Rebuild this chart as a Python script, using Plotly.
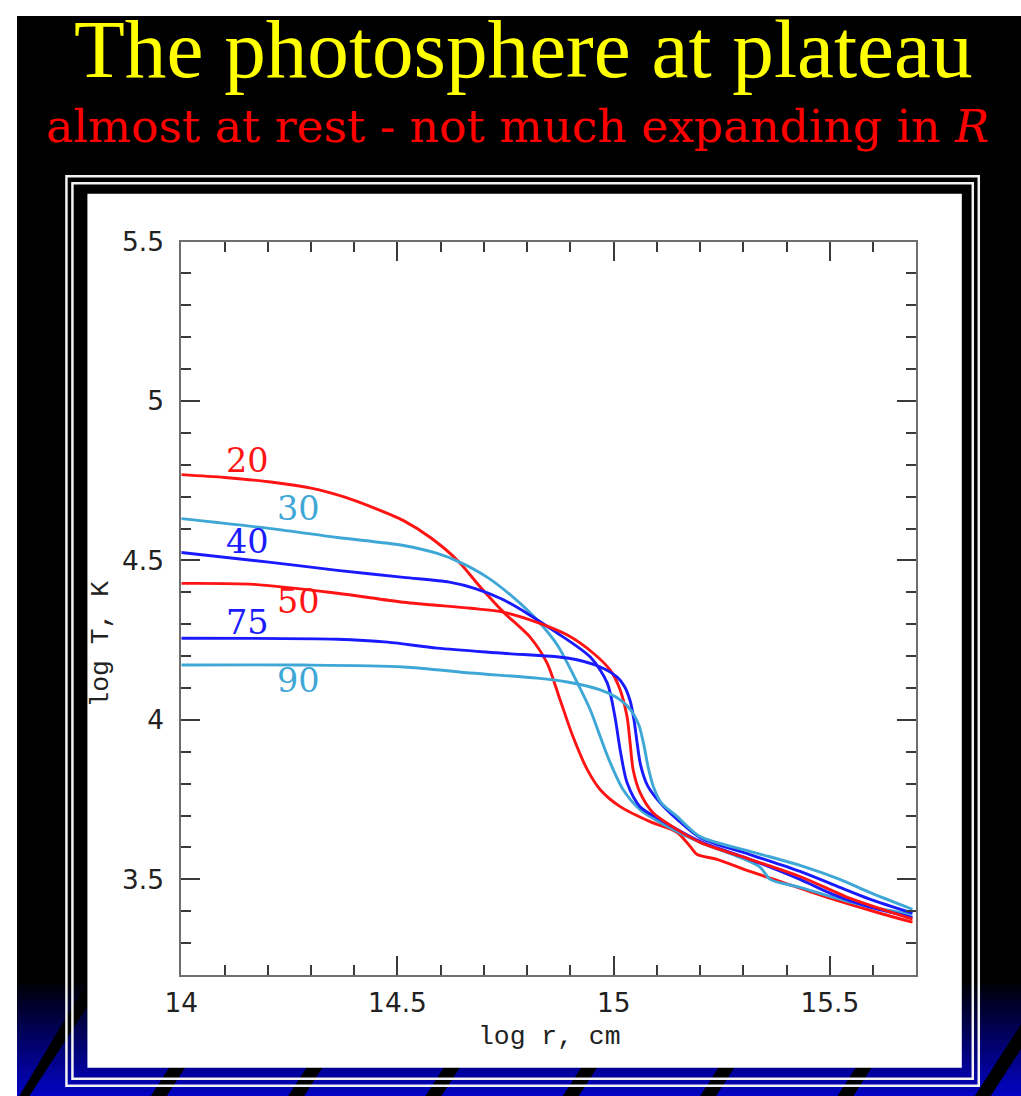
import plotly.graph_objects as go

# ---- data: log r (cm) vs log T (K) for several epochs (days) ----
labels = ["20", "30", "40", "50", "75", "90"]
colors = ["#ff1414", "#3fa7d6", "#1a1aff", "#ff1414", "#1a1aff", "#3fa7d6"]

logr_20 = [14.00, 14.10, 14.207, 14.30, 14.38, 14.438, 14.514, 14.576, 14.639, 14.692,
           14.745, 14.807, 14.846, 14.876, 14.906, 14.939, 14.969, 15.015, 15.084, 15.147,
           15.177, 15.193, 15.239, 15.315, 15.391, 15.507, 15.608, 15.691]
logT_20 = [4.769, 4.760, 4.746, 4.727, 4.698, 4.669, 4.625, 4.572, 4.500, 4.416,
           4.338, 4.259, 4.178, 4.063, 3.947, 3.844, 3.781, 3.728, 3.681, 3.647,
           3.603, 3.578, 3.563, 3.525, 3.491, 3.438, 3.397, 3.366]

logr_30 = [14.00, 14.207, 14.361, 14.514, 14.592, 14.645, 14.708, 14.768, 14.823, 14.870,
           14.916, 14.946, 14.969, 14.992, 15.022, 15.061, 15.124, 15.200, 15.292, 15.339,
           15.362, 15.431, 15.507, 15.585, 15.691]
logT_30 = [4.631, 4.600, 4.572, 4.547, 4.522, 4.494, 4.447, 4.384, 4.313, 4.234,
           4.116, 4.031, 3.947, 3.866, 3.781, 3.719, 3.666, 3.616, 3.569, 3.538,
           3.500, 3.475, 3.444, 3.416, 3.391]

logr_40 = [14.00, 14.207, 14.361, 14.514, 14.620, 14.680, 14.740, 14.800, 14.860, 14.946,
           14.985, 15.003, 15.015, 15.031, 15.061, 15.107, 15.200, 15.315, 15.431, 15.507,
           15.585, 15.691]
logT_40 = [4.525, 4.494, 4.469, 4.447, 4.432, 4.412, 4.380, 4.334, 4.281, 4.197,
           4.116, 4.009, 3.906, 3.803, 3.728, 3.688, 3.619, 3.563, 3.500, 3.453,
           3.416, 3.381]

logr_50 = [14.00, 14.168, 14.361, 14.514, 14.669, 14.745, 14.823, 14.893, 14.953, 14.992,
           15.015, 15.031, 15.038, 15.045, 15.061, 15.091, 15.147, 15.200, 15.315, 15.431,
           15.535, 15.592, 15.691]
logT_50 = [4.428, 4.425, 4.397, 4.369, 4.350, 4.338, 4.306, 4.266, 4.209, 4.156,
           4.094, 4.009, 3.928, 3.844, 3.772, 3.709, 3.656, 3.616, 3.563, 3.509,
           3.447, 3.419, 3.375]

logr_75 = [14.00, 14.361, 14.477, 14.592, 14.745, 14.893, 14.969, 15.008, 15.025, 15.038,
           15.047, 15.054, 15.062, 15.078, 15.107, 15.147, 15.200, 15.315, 15.431, 15.523,
           15.592, 15.691]
logT_75 = [4.256, 4.253, 4.244, 4.225, 4.209, 4.194, 4.166, 4.134, 4.105, 4.060,
           4.000, 3.930, 3.860, 3.795, 3.741, 3.688, 3.631, 3.578, 3.525, 3.475,
           3.438, 3.394]

logr_90 = [14.00, 14.283, 14.514, 14.669, 14.823, 14.893, 14.969, 15.015, 15.040, 15.058,
           15.070, 15.080, 15.092, 15.110, 15.147, 15.200, 15.315, 15.431, 15.523, 15.592,
           15.691]
logT_90 = [4.172, 4.172, 4.166, 4.147, 4.131, 4.119, 4.094, 4.063, 4.030, 3.985,
           3.920, 3.850, 3.790, 3.740, 3.697, 3.634, 3.588, 3.544, 3.500, 3.459,
           3.406]

# where each epoch label sits (log r, log T)
label_x = [14.152, 14.271, 14.152, 14.271, 14.152, 14.271]
label_y = [4.812, 4.663, 4.559, 4.372, 4.306, 4.125]

x_ticks = [14, 14.5, 15, 15.5]
x_ticklabels = ["14", "14.5", "15", "15.5"]
y_ticks = [3.5, 4, 4.5, 5, 5.5]
y_ticklabels = ["3.5", "4", "4.5", "5", "5.5"]

series_r = [logr_20, logr_30, logr_40, logr_50, logr_75, logr_90]
series_T = [logT_20, logT_30, logT_40, logT_50, logT_75, logT_90]

# ---- page geometry ----
W, H = 1021, 1096
# slide layout is laid out in screen pixels; the page places the figure with a small
# offset and a slight shrink, so positions are mapped back into figure space
OX, OY = 16.0, 14.0
SX, SY = 0.9846, 0.9874
K = (SX + SY) / 2


def fx(s):
    return (s - OX) / SX


def fy(s):
    return (s - OY) / SY


def px(s):
    return max(0.0, fx(s)) / W


def py(s):
    return 1 - max(0.0, fy(s)) / H


def fs(size):
    return round(size / K, 1)


fig = go.Figure()

for r, T, c, name in zip(series_r, series_T, colors, labels):
    fig.add_trace(go.Scatter(
        x=r, y=T, mode="lines", name=name,
        line=dict(color=c, width=2.9, shape="spline", smoothing=0.8),
        hoverinfo="skip",
    ))

shapes = []

# black slide background
shapes.append(dict(type="rect", xref="paper", yref="paper",
                   x0=px(12), x1=1, y0=0, y1=py(6),
                   fillcolor="black", line_width=0, layer="below"))

# blue gradient at the bottom of the slide
g_top, g_bot = 984, 1096
n_strips = 40
step = (g_bot - g_top) / n_strips
for i in range(n_strips):
    t = (i + 0.5) / n_strips
    b = int(8 + 190 * t)
    rb = int(4 * t)
    y_hi = g_top + i * step
    y_lo = g_top + (i + 1) * step + 0.5
    shapes.append(dict(type="rect", xref="paper", yref="paper",
                       x0=px(12), x1=1,
                       y0=0 if i == n_strips - 1 else py(y_lo), y1=py(y_hi),
                       fillcolor=f"rgb({rb},{rb},{b})", line_width=0, layer="below"))

# diagonal black bands across the gradient
band_w = 16
band_slope = 1.55
for k in range(8):
    xb = 10 + 137.5 * k
    yb = 1100
    xt = xb + (yb - g_top) / band_slope
    path = (f"M {px(xb)} {py(yb)} L {px(xb + band_w)} {py(yb)} "
            f"L {px(xt + band_w)} {py(g_top)} L {px(xt)} {py(g_top)} Z")
    shapes.append(dict(type="path", xref="paper", yref="paper", path=path,
                       fillcolor="black", line_width=0, layer="below"))

# double white frame
for (x0, y0, x1, y1) in [(65.5, 174.5, 979, 1086), (71.5, 181.5, 973, 1079)]:
    shapes.append(dict(type="rect", xref="paper", yref="paper",
                       x0=px(x0), x1=px(x1), y0=py(y1), y1=py(y0),
                       fillcolor="rgba(0,0,0,0)",
                       line=dict(color="#f2f2f2", width=2.5), layer="below"))

# white panel holding the plot
shapes.append(dict(type="rect", xref="paper", yref="paper",
                   x0=px(86.5), x1=px(962), y0=py(1068), y1=py(192),
                   fillcolor="white", line_width=0, layer="below"))

annotations = []

annotations.append(dict(
    text="The photosphere at plateau", xref="paper", yref="paper",
    x=px(523), y=py(47.5), xanchor="center", yanchor="middle", showarrow=False,
    font=dict(family="Liberation Serif", size=fs(82), color="#ffff00")))

annotations.append(dict(
    text="almost at rest - not much expanding in <i>R</i>", xref="paper", yref="paper",
    x=px(517), y=py(124.5), xanchor="center", yanchor="middle", showarrow=False,
    font=dict(family="DejaVu Serif", size=fs(45), color="#ff0000")))

annotations.append(dict(
    text="log r, cm", xref="paper", yref="paper",
    x=px(549), y=py(1037), xanchor="center", yanchor="middle", showarrow=False,
    font=dict(family="Liberation Mono", size=fs(26), color="#222222")))

annotations.append(dict(
    text="log T, K", xref="paper", yref="paper", textangle=-90,
    x=px(100), y=py(643), xanchor="center", yanchor="middle", showarrow=False,
    font=dict(family="Liberation Mono", size=fs(26), color="#222222")))

for lx, ly, c, t in zip(label_x, label_y, colors, labels):
    annotations.append(dict(
        text=t, x=lx, y=ly, xref="x", yref="y", xanchor="center", yanchor="middle",
        showarrow=False, font=dict(family="DejaVu Serif", size=fs(33), color=c)))

axis_common = dict(
    showgrid=False, zeroline=False, showline=True, linecolor="#6e6e6e", linewidth=2,
    mirror="ticks", ticks="inside", ticklen=19, tickwidth=1.6, tickcolor="#3a3a3a",
    tickfont=dict(family="DejaVu Sans", size=fs(26), color="#222222"),
    minor=dict(ticks="inside", ticklen=10, tickwidth=1.6, tickcolor="#3a3a3a", dtick=0.1),
)

fig.update_layout(
    width=W, height=H, autosize=False,
    margin=dict(l=0, r=0, t=0, b=0),
    paper_bgcolor="white", plot_bgcolor="rgba(0,0,0,0)",
    showlegend=False,
    shapes=shapes, annotations=annotations,
    xaxis=dict(axis_common, range=[14, 15.7], domain=[px(180.5), px(916.5)],
               tickvals=x_ticks, ticktext=x_ticklabels, ticklabelstandoff=3),
    yaxis=dict(axis_common, range=[3.2, 5.5], domain=[py(975), py(240)],
               tickvals=y_ticks, ticktext=y_ticklabels, ticklabelstandoff=10),
)

fig.write_html("out.html")
